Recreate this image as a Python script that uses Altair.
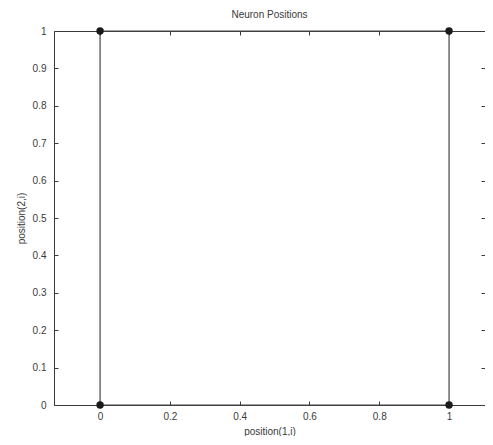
import altair as alt
import pandas as pd

# Neuron positions (4 neurons on a 2x2 grid)
neuron_x = [0, 1, 0, 1]
neuron_y = [0, 0, 1, 1]
# neighbour links (indices into the neuron lists)
links = [(0, 1), (2, 3), (0, 2), (1, 3)]

x_ticks = [0, 0.2, 0.4, 0.6, 0.8, 1]
y_ticks = [0, 0.1, 0.2, 0.3, 0.4, 0.5, 0.6, 0.7, 0.8, 0.9, 1]

title = "Neuron Positions"
x_title = "position(1,i)"
y_title = "position(2,i)"

x_domain = [-0.132, 1.103]
y_domain = [0, 1]

W, H = 431, 374
FONT = "Liberation Sans"
INK = "#3a3a3a"

pts = pd.DataFrame({"x": neuron_x, "y": neuron_y})
rows = []
for k, (a, b) in enumerate(links):
    rows.append({"seg": k, "ord": 0, "x": neuron_x[a], "y": neuron_y[a]})
    rows.append({"seg": k, "ord": 1, "x": neuron_x[b], "y": neuron_y[b]})
segs = pd.DataFrame(rows)

xs = alt.Scale(domain=x_domain, nice=False, zero=False)
ys = alt.Scale(domain=y_domain, nice=False, zero=False)

def ax(orient, values, labels=False, ticks=False, domain=False, title=None, offset=0):
    kw = dict(orient=orient, values=values, labels=labels, ticks=ticks, domain=domain,
              grid=False, offset=offset, tickSize=4, tickColor=INK, tickWidth=1,
              domainColor=INK, domainWidth=1, labelFont=FONT, labelFontSize=10,
              labelColor=INK, format="~g", titleFont=FONT, titleFontSize=10,
              titleFontWeight="normal", titleColor=INK)
    kw["title"] = title
    return alt.Axis(**kw)

lines = alt.Chart(segs).mark_line(color="#444444", strokeWidth=1.2).encode(
    x=alt.X("x:Q", scale=xs,
            axis=ax("bottom", x_ticks, labels=True, domain=True, title=x_title)),
    y=alt.Y("y:Q", scale=ys,
            axis=ax("left", y_ticks, labels=True, domain=True, title=y_title)),
    detail="seg:N",
    order="ord:Q",
)

points = alt.Chart(pts).mark_point(filled=True, color="#1a1a1a", size=55, opacity=1).encode(
    # inward ticks along the bottom and left edges
    x=alt.X("x:Q", scale=xs, axis=ax("top", x_ticks, ticks=True, offset=-H)),
    y=alt.Y("y:Q", scale=ys, axis=ax("right", y_ticks, ticks=True, offset=-W)),
)

frame = alt.Chart(pts).mark_point(opacity=0).encode(
    # inward ticks along the top and right edges, plus the top frame line
    x=alt.X("x:Q", scale=xs, axis=ax("bottom", x_ticks, ticks=True, domain=True, offset=-H)),
    y=alt.Y("y:Q", scale=ys, axis=ax("left", y_ticks, ticks=True, offset=-W)),
)

chart = alt.layer(lines, frame, points).resolve_axis(
    x="independent", y="independent"
).properties(
    width=W, height=H,
    title=alt.TitleParams(title, font=FONT, fontSize=10, fontWeight="normal",
                          color=INK, offset=6),
    autosize=alt.AutoSizeParams(type="none"),
    padding={"left": 46, "top": 23, "right": 0, "bottom": 31},
).configure_view(stroke=None).configure_axisX(
    labelPadding=6, titlePadding=5
).configure_axisY(
    labelPadding=8, titlePadding=6
)

chart.save("out.html", embed_options={"renderer": "svg", "actions": False})
